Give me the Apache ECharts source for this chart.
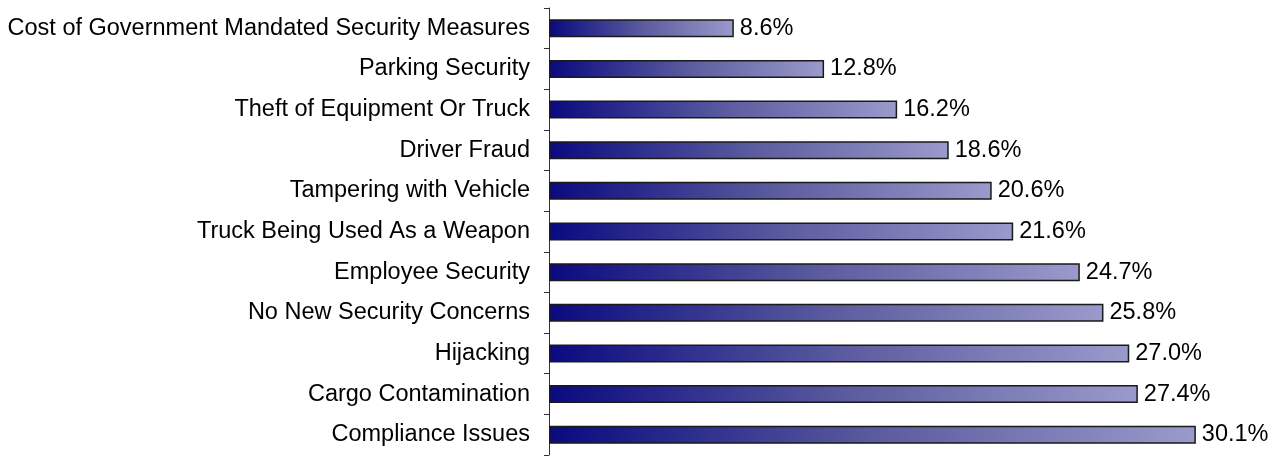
<!DOCTYPE html>
<html>
<head>
<meta charset="utf-8">
<script src="https://cdn.jsdelivr.net/npm/echarts@6/dist/echarts.min.js"></script>
<style>
html,body{margin:0;padding:0;background:#fff;}
#chart{width:1280px;height:459px;}
</style>
</head>
<body>
<div id="chart"></div>
<script>
// Security concerns, listed top to bottom
const categories = [
  'Cost of Government Mandated Security Measures',
  'Parking Security',
  'Theft of Equipment Or Truck',
  'Driver Fraud',
  'Tampering with Vehicle',
  'Truck Being Used As a Weapon',
  'Employee Security',
  'No New Security Concerns',
  'Hijacking',
  'Cargo Contamination',
  'Compliance Issues'
];
const values = [8.6, 12.8, 16.2, 18.6, 20.6, 21.6, 24.7, 25.8, 27.0, 27.4, 30.1];

const chart = echarts.init(document.getElementById('chart'), null, {renderer: 'canvas'});
chart.setOption({
  animation: false,
  grid: {left: 549, top: 8, bottom: 4, width: 687.7, containLabel: false},
  xAxis: {
    type: 'value', min: 0, max: 32, show: false
  },
  yAxis: {
    type: 'category',
    data: categories,
    inverse: true,
    axisLine: {show: true, lineStyle: {color: '#333', width: 1}},
    axisTick: {show: true, inside: false, length: 5, lineStyle: {color: '#333'}},
    axisLabel: {
      fontFamily: 'Liberation Sans, Arial, sans-serif',
      fontSize: 23.5, color: '#000', margin: 19
    }
  },
  series: [{
    type: 'bar',
    data: values,
    barWidth: 18,
    itemStyle: {
      color: new echarts.graphic.LinearGradient(0, 0, 1, 0, [
        {offset: 0, color: '#0a0a80'},
        {offset: 0.5, color: '#5a5a9e'},
        {offset: 1, color: '#9a9acc'}
      ]),
      borderColor: '#1a1a1a',
      borderWidth: 1.5
    },
    label: {
      show: true, position: 'right', distance: 6,
      formatter: p => p.value.toFixed(1) + '%',
      fontFamily: 'Liberation Sans, Arial, sans-serif',
      fontSize: 23.5, color: '#000'
    }
  }]
});
</script>
</body>
</html>
